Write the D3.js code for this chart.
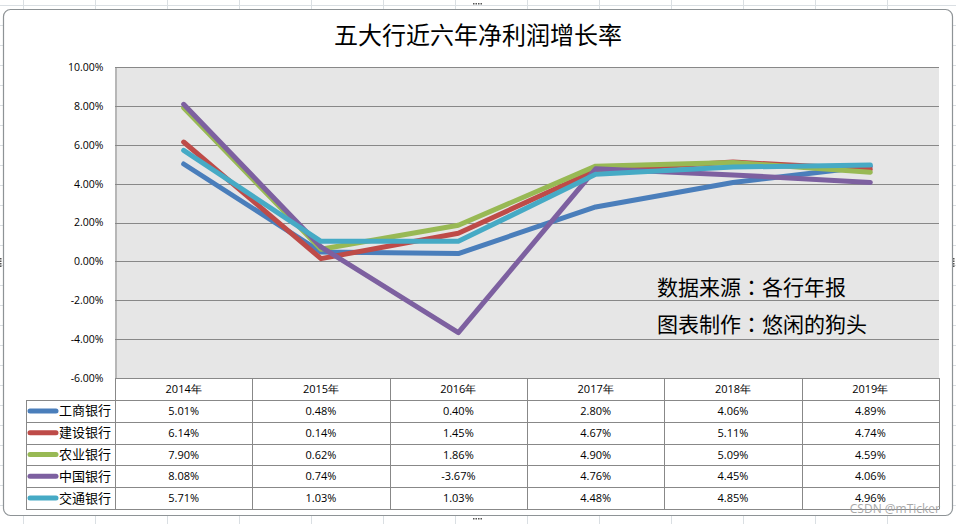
<!DOCTYPE html>
<html><head><meta charset="utf-8">
<script src="https://cdn.jsdelivr.net/npm/d3@7"></script>
<style>html,body{margin:0;padding:0;background:#fff;overflow:hidden}</style>
</head><body>
<svg id="c" width="956" height="524"></svg>
<script>
const title = "五大行近六年净利润增长率";
const years = ["2014年","2015年","2016年","2017年","2018年","2019年"];
const banks = ["工商银行","建设银行","农业银行","中国银行","交通银行"];
const icbc = [5.01,0.48,0.40,2.80,4.06,4.89];
const ccb  = [6.14,0.14,1.45,4.67,5.11,4.74];
const abc  = [7.90,0.62,1.86,4.90,5.09,4.59];
const boc  = [8.08,0.74,-3.67,4.76,4.45,4.06];
const bocom= [5.71,1.03,1.03,4.48,4.85,4.96];
const yTicks = [-6,-4,-2,0,2,4,6,8,10];
const notes = ["数据来源：各行年报","图表制作：悠闲的狗头"];
const colors = ["#4A7EBB","#BE4B48","#98B954","#7D60A0","#46AAC5"];
const series = [icbc,ccb,abc,boc,bocom];

(function(){
const svg = d3.select("#c");
const cjk = "'Noto Sans CJK SC','Noto Sans',sans-serif";
const cjkTC = "'Noto Sans CJK TC','Noto Sans CJK SC',sans-serif";
const num = "'Open Sans','DejaVu Sans',sans-serif";
const pct = v => d3.format(".2f")(v).replace("\u2212","-")+"%";

// spreadsheet background
const bg = svg.append("g");
d3.range(23, 956, 72).forEach(xx => bg.append("line").attr("x1",xx+0.5).attr("x2",xx+0.5).attr("y1",0).attr("y2",524).attr("stroke","#dadfe3"));
d3.range(5, 524, 20).forEach(yy => bg.append("line").attr("x1",0).attr("x2",956).attr("y1",yy+0.5).attr("y2",yy+0.5).attr("stroke","#dadfe3"));

// chart frame
svg.append("rect").attr("x",3.5).attr("y",9.5).attr("width",949).attr("height",506).attr("rx",7)
  .attr("fill","#fff").attr("stroke","#8e9396").attr("stroke-width",1.2);
// selection handles
[[477,4],[477,519],[1,262],[954,262]].forEach(([cx,cy])=>{
  const horiz = cy<20||cy>500;
  for(let i=0;i<4;i++){
    svg.append("rect").attr("x",horiz?cx-4+i*2.5:cx-1).attr("y",horiz?cy-1:cy-4+i*2.5).attr("width",1.5).attr("height",1.5).attr("fill","#555");
  }
});

const pL=115, pR=939, pT=67, pB=378;
const x = d3.scaleBand().domain(years).range([pL,pR]);
const y = d3.scaleLinear().domain([-6,10]).range([pB,pT]);

// title
svg.append("text").attr("x",478).attr("y",44).attr("text-anchor","middle")
  .attr("font-family",cjk).attr("font-size",24).attr("fill","#000").text(title);

// plot area
svg.append("rect").attr("x",pL).attr("y",pT).attr("width",pR-pL).attr("height",pB-pT).attr("fill","#e6e6e6");
svg.append("g").selectAll("line").data(yTicks).join("line")
  .attr("x1",pL).attr("x2",pR).attr("y1",d=>Math.round(y(d))+0.5).attr("y2",d=>Math.round(y(d))+0.5)
  .attr("stroke","#888").attr("stroke-width",1);

const yAxis = d3.axisLeft(y).tickValues(yTicks).tickSize(0).tickPadding(12).tickFormat(pct);
const ga = svg.append("g").attr("transform",`translate(${pL+0.5},0)`).call(yAxis);
ga.select(".domain").attr("stroke","#888");
ga.selectAll("text").attr("font-family",num).attr("font-size",10.5).attr("fill","#000");

// notes
notes.forEach((t,i)=>svg.append("text").attr("x",657).attr("y",295+i*37).attr("font-family",cjkTC).attr("font-size",21).attr("fill","#000").text(t));

// lines
const line = d3.line().x((d,i)=>x(years[i])+x.bandwidth()/2).y(d=>y(d));
svg.append("g").selectAll("path").data(series).join("path")
  .attr("d",d=>line(d)).attr("fill","none").attr("stroke",(d,i)=>colors[i])
  .attr("stroke-width",5).attr("stroke-linecap","round").attr("stroke-linejoin","round");

// data table
const rowY = d3.scaleBand().domain(banks).range([400,509]);
const tg = svg.append("g");
const tableStroke = "#888";
tg.append("line").attr("x1",pL).attr("x2",pR).attr("y1",pB+0.5).attr("y2",pB+0.5).attr("stroke",tableStroke);
years.forEach(yr=>{
  tg.append("text").attr("x",x(yr)+x.bandwidth()/2).attr("y",393).attr("text-anchor","middle")
    .attr("font-family",num).attr("font-size",11).attr("fill","#000").text(yr);
});
[pL,...years.map(yr=>x(yr)+x.bandwidth())].forEach(vx=>{
  tg.append("line").attr("x1",Math.round(vx)+0.5).attr("x2",Math.round(vx)+0.5).attr("y1",pB).attr("y2",509.5).attr("stroke",tableStroke);
});
tg.append("line").attr("x1",26.5).attr("x2",26.5).attr("y1",400).attr("y2",509.5).attr("stroke",tableStroke);
banks.forEach((b,bi)=>{
  const ry = Math.round(rowY(b))+0.5;
  tg.append("line").attr("x1",26).attr("x2",pR).attr("y1",ry).attr("y2",ry).attr("stroke",tableStroke);
  const cy = rowY(b)+rowY.bandwidth()/2;
  tg.append("line").attr("x1",30).attr("x2",56).attr("y1",cy).attr("y2",cy)
    .attr("stroke",colors[bi]).attr("stroke-width",5).attr("stroke-linecap","round");
  tg.append("text").attr("x",59).attr("y",cy+4.5).attr("font-family",cjk).attr("font-size",13).attr("fill","#000").text(b);
  series[bi].forEach((v,i)=>{
    tg.append("text").attr("x",x(years[i])+x.bandwidth()/2).attr("y",cy+4).attr("text-anchor","middle")
      .attr("font-family",num).attr("font-size",11).attr("fill","#000").text(pct(v));
  });
});
tg.append("line").attr("x1",26).attr("x2",pR).attr("y1",509.5).attr("y2",509.5).attr("stroke",tableStroke);

// watermark
svg.append("text").attr("x",940).attr("y",513).attr("text-anchor","end").attr("font-family",num).attr("font-size",12)
  .attr("fill","#9a9a9a").attr("opacity",0.85).text("CSDN @mTicker");
})();
</script>
</body></html>
